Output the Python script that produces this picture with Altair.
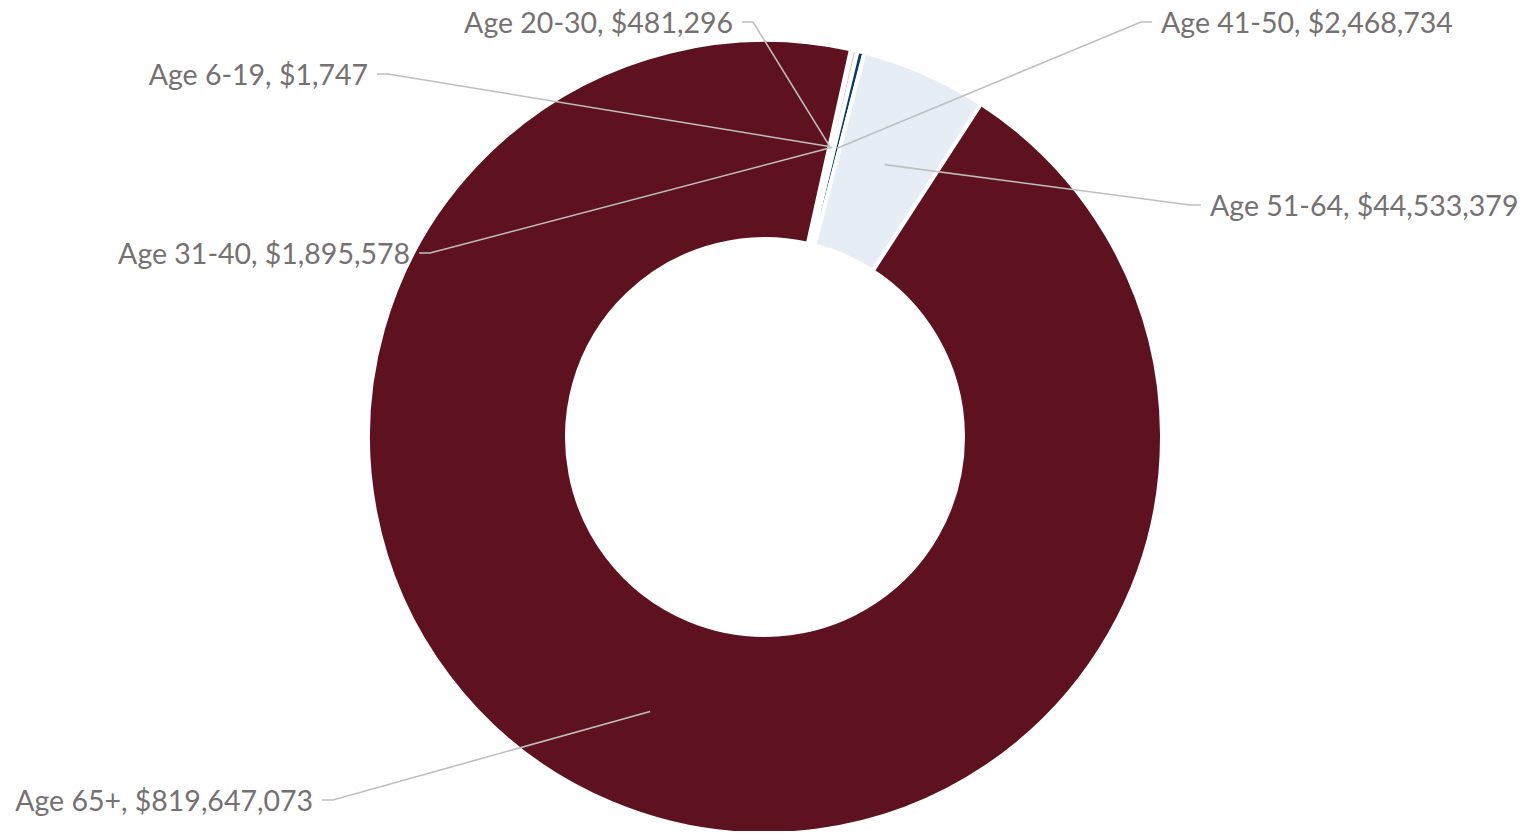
import math
import numpy as np
import pandas as pd
import altair as alt

# ---------------- data ----------------
categories = ["Age 6-19", "Age 20-30", "Age 31-40", "Age 41-50", "Age 51-64", "Age 65+"]
values = [1747, 481296, 1895578, 2468734, 44533379, 819647073]
colors = ["#D9B3B8", "#F2DCDB", "#E8C4C6", "#0E3A6B", "#E6EDF4", "#5E1220"]

# ---------------- layout (page pixels) ----------------
W, H = 1511, 823
MARGIN = 8
CX, CY = 765 - MARGIN, 437 - MARGIN
R_OUT, R_IN = 397, 198
R_LEADER = 297.5
START_DEG = 12.5
label_x = [368, 733, 410, 1161, 1210, 313]
label_y = [74, 22, 253, 22, 205, 800]
label_align = ["right", "right", "right", "left", "left", "right"]
TEXT_DY = 2

vals = np.array(values, dtype=float)
frac = vals / vals.sum()
t0 = math.radians(START_DEG)
starts = t0 + 2 * np.pi * np.concatenate([[0.0], np.cumsum(frac)[:-1]])
mids = starts + np.pi * frac

labels = [f"{c}, ${v:,}" for c, v in zip(categories, values)]

slice_df = pd.DataFrame({"category": categories, "value": values, "idx": list(range(len(values)))})

text_rows, line_rows = [], []
for i, cat in enumerate(categories):
    lx, ly = label_x[i] - MARGIN, label_y[i] - MARGIN
    sgn = 1 if label_align[i] == "right" else -1
    px = CX + R_LEADER * math.sin(mids[i])
    py = CY - R_LEADER * math.cos(mids[i])
    text_rows.append({"category": cat, "label": labels[i], "x": lx, "y": ly + TEXT_DY, "align": label_align[i]})
    pts = [(lx + sgn * 9, ly), (lx + sgn * 20, ly), (px, py)]
    for k, (x, y) in enumerate(pts):
        line_rows.append({"category": cat, "k": k, "x": x, "y": y})

text_df = pd.DataFrame(text_rows)
line_df = pd.DataFrame(line_rows)

xs = alt.Scale(domain=[0, W], range=[0, W])
ys = alt.Scale(domain=[0, H], range=[0, H])

arcs = alt.Chart(slice_df).mark_arc(
    innerRadius=R_IN, outerRadius=R_OUT, stroke="white", strokeWidth=4
).encode(
    theta=alt.Theta("value:Q", stack=True, scale=alt.Scale(range=[t0, t0 + 2 * math.pi])),
    color=alt.Color("category:N", scale=alt.Scale(domain=categories, range=colors), legend=None),
    order=alt.Order("idx:Q"),
    x=alt.value(CX),
    y=alt.value(CY),
)

leaders = alt.Chart(line_df).mark_line(color="#BFBFBF", strokeWidth=1.6).encode(
    x=alt.X("x:Q", scale=xs, axis=None),
    y=alt.Y("y:Q", scale=ys, axis=None),
    detail="category:N",
    order="k:Q",
)

def text_layer(al):
    return alt.Chart(text_df).transform_filter(
        alt.datum.align == al
    ).mark_text(
        align=al, baseline="middle", font="Lato", fontSize=28.5, color="#757171"
    ).encode(
        x=alt.X("x:Q", scale=xs, axis=None),
        y=alt.Y("y:Q", scale=ys, axis=None),
        text="label:N",
    )

chart = alt.layer(arcs, leaders, text_layer("right"), text_layer("left")).properties(
    width=W, height=H, padding=0, autosize=alt.AutoSizeParams(type="none"), background="white"
).configure_view(stroke=None)

chart.save("out.html", embed_options={"renderer": "svg", "actions": False})
